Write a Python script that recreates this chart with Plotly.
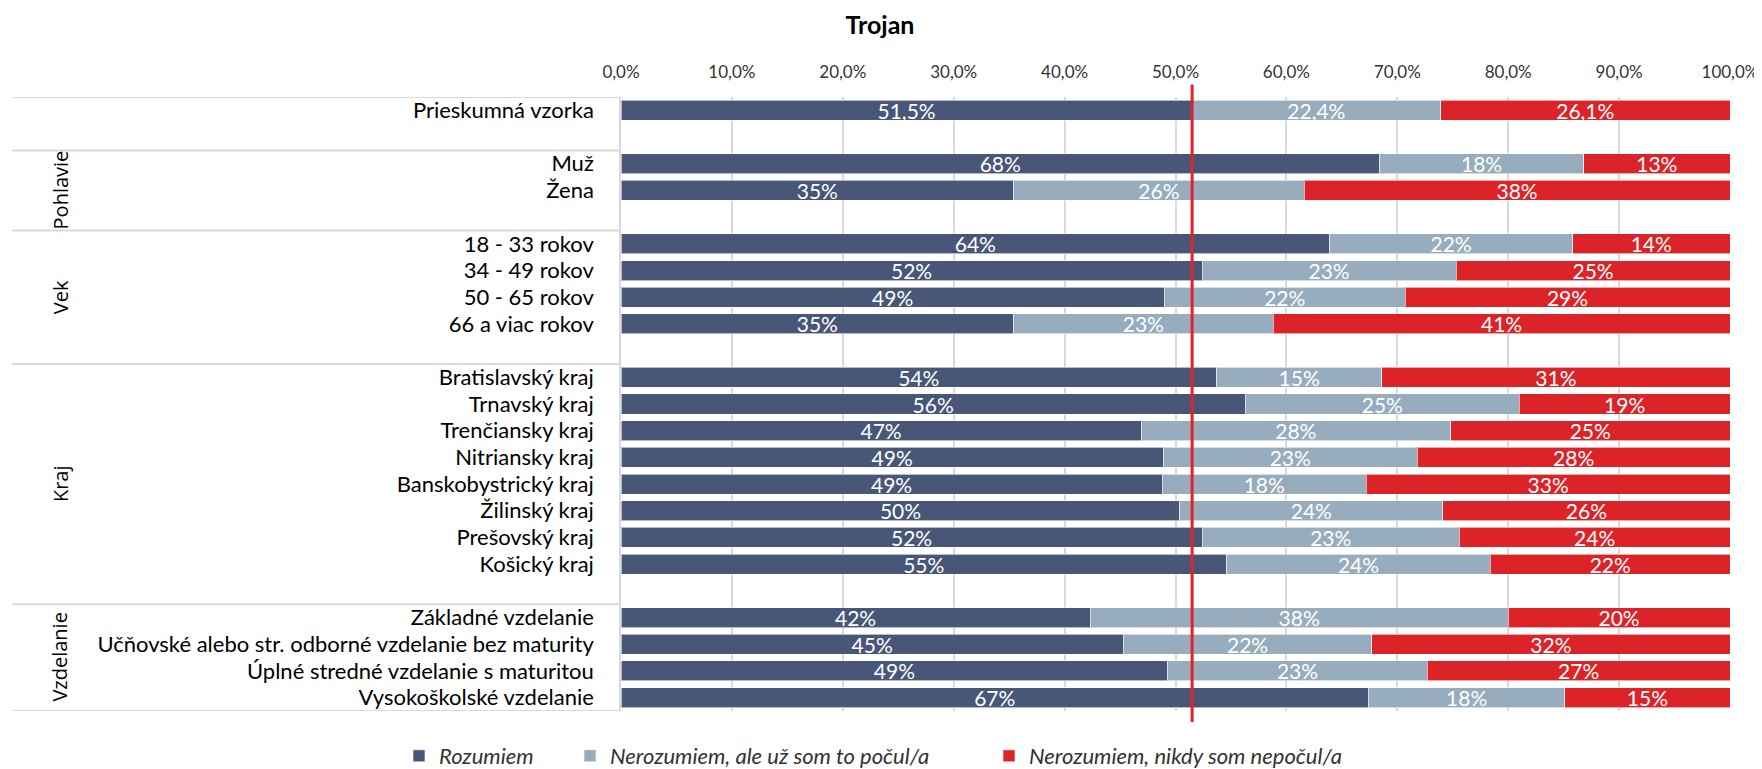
import plotly.graph_objects as go

# ---------------- data ----------------
chart_title = "Trojan"
group_names = ["", "Pohlavie", "Vek", "Kraj", "Vzdelanie"]
group_items = [
    ["Prieskumná vzorka"],
    ["Muž", "Žena"],
    ["18 - 33 rokov", "34 - 49 rokov", "50 - 65 rokov", "66 a viac rokov"],
    ["Bratislavský kraj", "Trnavský kraj", "Trenčiansky kraj", "Nitriansky kraj",
     "Banskobystrický kraj", "Žilinský kraj", "Prešovský kraj", "Košický kraj"],
    ["Základné vzdelanie", "Učňovské alebo str. odborné vzdelanie bez maturity",
     "Úplné stredné vzdelanie s maturitou", "Vysokoškolské vzdelanie"],
]
series_names = ["Rozumiem", "Nerozumiem, ale už som to počul/a", "Nerozumiem, nikdy som nepočul/a"]
rozumiem = [51.5, 68.4, 35.4, 63.9, 52.4, 49.0, 35.4, 53.7, 56.3, 46.9, 48.9, 48.8,
            50.4, 52.4, 54.6, 42.3, 45.3, 49.3, 67.4]
pocul = [22.4, 18.4, 26.2, 21.9, 22.9, 21.7, 23.4, 14.9, 24.7, 27.9, 22.9, 18.4,
         23.7, 23.2, 23.8, 37.7, 22.4, 23.4, 17.7]
nepocul = [26.1, 13.2, 38.4, 14.2, 24.7, 29.3, 41.2, 31.4, 19.0, 25.2, 28.2, 32.8,
           25.9, 24.4, 21.6, 20.0, 32.3, 27.3, 14.9]
label_decimals = [1] + [0] * 18
reference_value = 51.5
tick_values = [0, 10, 20, 30, 40, 50, 60, 70, 80, 90, 100]

colors = ["#485678", "#97adbd", "#dc2428"]

# ---------------- layout helpers ----------------
labels, ypos, group_spans = [], [], []
pos = 0
for gi, items in enumerate(group_items):
    start = pos
    for it in items:
        labels.append(it)
        ypos.append(pos)
        pos += 1
    if gi < len(group_items) - 1:
        pos += 1  # blank row after group
    group_spans.append((start - 0.5, pos - 0.5))
n_slots = pos

OFF = 8  # page body margin
W, H = 1762 - OFF, 769 - OFF
L = 621 - OFF
T = 97 - OFF
R = W - (1730 - OFF)
B = H - (711 - OFF)
plot_w = W - L - R
plot_h = H - T - B


def fmt(v, d):
    return f"{v:.{d}f}".replace(".", ",") + "%"


fig = go.Figure()
legend_ids = ["legend", "legend2", "legend3"]
for name, vals, col, lg in zip(series_names, [rozumiem, pocul, nepocul], colors, legend_ids):
    fig.add_trace(go.Bar(
        x=vals, y=ypos, orientation="h", name=name,
        marker=dict(color=col, line=dict(color="rgba(255,255,255,0.6)", width=1)),
        text=[fmt(v, d) for v, d in zip(vals, label_decimals)],
        textposition="inside", insidetextanchor="middle", textangle=0,
        constraintext="none",
        textfont=dict(family="Lato", size=21, color="white"),
        legend=lg, hoverinfo="skip",
    ))

shapes = []
bounds = sorted(set([s for s, e in group_spans] + [e for s, e in group_spans]))
for b in bounds:
    shapes.append(dict(type="line", xref="paper", yref="y",
                       x0=(12 - OFF - L) / plot_w, x1=0, y0=b, y1=b,
                       line=dict(color="#d9d9d9", width=2)))
shapes.append(dict(type="line", xref="x", yref="paper",
                   x0=reference_value, x1=reference_value,
                   y0=-11 / plot_h, y1=1 + 12.6 / plot_h,
                   line=dict(color="#e3222a", width=3)))

annotations = []
for gname, (s, e) in zip(group_names, group_spans):
    if gname:
        annotations.append(dict(
            text=gname, xref="paper", yref="y", x=(60 - OFF - L) / plot_w, y=(s + e) / 2,
            textangle=-90, showarrow=False, xanchor="center", yanchor="middle",
            font=dict(family="Open Sans", size=20, color="#000000")))

legend_px = [421, 592, 1011]
legends = {}
for lg, px in zip(legend_ids, legend_px):
    legends[lg] = dict(
        orientation="h", yref="container", y=1 - (756 - OFF) / H, yanchor="middle",
        xref="paper", x=(px - OFF - 22 - L) / plot_w, xanchor="left",
        font=dict(family="Lato", size=22, color="#333333", style="italic"),
        bgcolor="rgba(0,0,0,0)", itemwidth=30)

fig.update_layout(
    width=W, height=H,
    margin=dict(l=L, r=R, t=T, b=B, pad=0, autoexpand=False),
    paper_bgcolor="white", plot_bgcolor="white",
    barmode="stack", bargap=0.25,
    separators=", ",
    title=dict(text="<b>" + chart_title + "</b>", x=(880 - OFF) / W, xref="container", xanchor="center",
               y=1 - (25 - OFF) / H, yref="container", yanchor="middle",
               font=dict(family="Lato", size=25, color="#000000")),
    xaxis=dict(side="top", range=[0, 100], tickmode="array", tickvals=tick_values,
               ticktext=[fmt(v, 1) for v in tick_values], automargin=False,
               showgrid=True, gridcolor="#d9d9d9", gridwidth=1.5,
               zeroline=False, showline=False, ticks="", ticklabelstandoff=15,
               tickfont=dict(family="Lato", size=17, color="#333333"), fixedrange=True),
    yaxis=dict(range=[n_slots - 0.5, -0.5], tickmode="array", tickvals=ypos, ticktext=labels,
               automargin=False,
               showgrid=False, zeroline=False, showline=True, linecolor="#d9d9d9", linewidth=1.5,
               ticks="", ticklabelstandoff=21,
               tickfont=dict(family="Lato", size=22, color="#000000"), fixedrange=True),
    shapes=shapes, annotations=annotations,
    showlegend=True,
    **legends,
)

fig.write_html("out.html")
